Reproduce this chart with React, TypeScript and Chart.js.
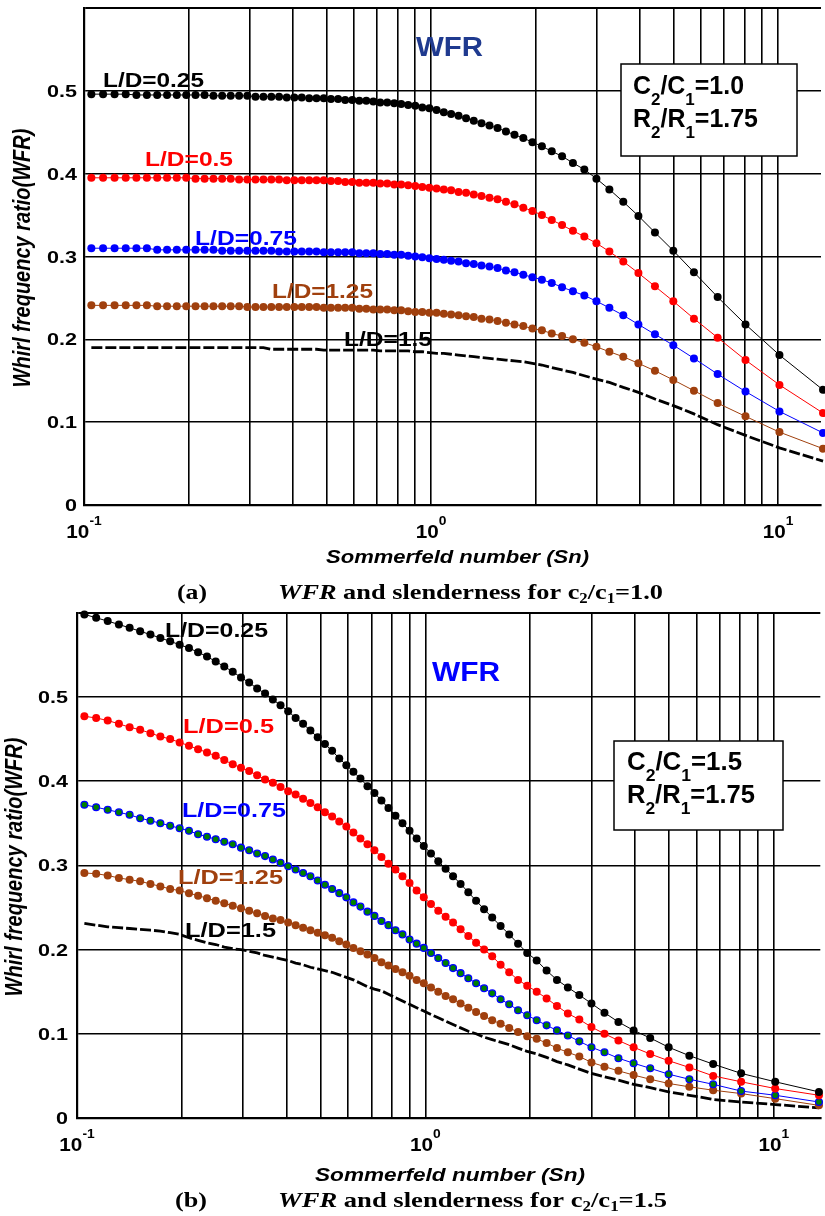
import React, { useEffect, useRef } from "react";
import { Chart, registerables } from "chart.js";

Chart.register(...registerables);

const SANS = '"Liberation Sans", Arial, Helvetica, sans-serif';
const SERIF = '"Liberation Serif", "Times New Roman", Times, serif';

// Sommerfeld number sample points (shared by every curve)
const SN = [
  0.105, 0.1135, 0.1225, 0.1319, 0.1416, 0.1518, 0.1625, 0.1735, 0.1851, 0.1971,
  0.2096, 0.2226, 0.2361, 0.2501, 0.2647, 0.2799, 0.2956, 0.312, 0.3289, 0.3466,
  0.3649, 0.3839, 0.4037, 0.4242, 0.4456, 0.4677, 0.4908, 0.5148, 0.5399, 0.5659,
  0.5931, 0.6214, 0.651, 0.6818, 0.7141, 0.7479, 0.7834, 0.8205, 0.8595, 0.9006,
  0.9438, 0.9894, 1.0377, 1.0887, 1.143, 1.2005, 1.262, 1.328, 1.398, 1.474,
  1.555, 1.644, 1.74, 1.845, 1.96, 2.087, 2.228, 2.386, 2.564, 2.766,
  2.997, 3.266, 3.582, 3.96, 4.419, 4.992, 5.724, 6.699, 8.059, 10.095,
  13.48,
];

// (a) c2/c1 = 1.0
const A_LD025 = [
  0.496, 0.496, 0.496, 0.496, 0.495, 0.495, 0.495, 0.495, 0.495, 0.495,
  0.495, 0.495, 0.494, 0.494, 0.494, 0.494, 0.494, 0.493, 0.493, 0.493,
  0.493, 0.492, 0.492, 0.492, 0.491, 0.491, 0.491, 0.49, 0.49, 0.489,
  0.489, 0.488, 0.488, 0.487, 0.486, 0.486, 0.485, 0.484, 0.483, 0.482,
  0.48, 0.479, 0.477, 0.474, 0.472, 0.47, 0.467, 0.464, 0.461, 0.458,
  0.455, 0.451, 0.447, 0.443, 0.438, 0.433, 0.427, 0.421, 0.413, 0.405,
  0.394, 0.381, 0.366, 0.349, 0.329, 0.307, 0.281, 0.251, 0.218, 0.181,
  0.139,
];
const A_LD05 = [
  0.395, 0.395, 0.395, 0.395, 0.395, 0.395, 0.395, 0.395, 0.395, 0.395,
  0.394, 0.394, 0.394, 0.394, 0.394, 0.393, 0.393, 0.393, 0.393, 0.393,
  0.393, 0.392, 0.392, 0.392, 0.392, 0.392, 0.392, 0.391, 0.391, 0.39,
  0.39, 0.389, 0.389, 0.389, 0.388, 0.388, 0.387, 0.387, 0.386, 0.385,
  0.384, 0.383, 0.382, 0.381, 0.38, 0.378, 0.377, 0.375, 0.373, 0.371,
  0.369, 0.366, 0.363, 0.359, 0.355, 0.35, 0.344, 0.338, 0.331, 0.324,
  0.316, 0.306, 0.294, 0.28, 0.264, 0.246, 0.225, 0.202, 0.175, 0.145,
  0.111,
];
const A_LD075 = [
  0.31, 0.31, 0.31, 0.31, 0.31, 0.31, 0.308, 0.308, 0.308, 0.308,
  0.308, 0.308, 0.308, 0.307, 0.307, 0.307, 0.307, 0.307, 0.307, 0.307,
  0.306, 0.306, 0.306, 0.306, 0.306, 0.306, 0.305, 0.305, 0.305, 0.305,
  0.305, 0.304, 0.304, 0.304, 0.303, 0.303, 0.302, 0.302, 0.301, 0.3,
  0.299, 0.298, 0.297, 0.296, 0.295, 0.294, 0.292, 0.291, 0.289, 0.288,
  0.286, 0.283, 0.281, 0.278, 0.275, 0.272, 0.268, 0.263, 0.258, 0.253,
  0.246, 0.238, 0.229, 0.218, 0.206, 0.193, 0.177, 0.158, 0.137, 0.113,
  0.087,
];
const A_LD125 = [
  0.241, 0.241, 0.241, 0.241, 0.241, 0.241, 0.24, 0.24, 0.24, 0.24,
  0.24, 0.24, 0.24, 0.24, 0.24, 0.24, 0.239, 0.239, 0.239, 0.239,
  0.239, 0.239, 0.239, 0.239, 0.239, 0.239, 0.238, 0.238, 0.238, 0.238,
  0.238, 0.237, 0.237, 0.236, 0.236, 0.236, 0.235, 0.235, 0.234, 0.233,
  0.233, 0.232, 0.232, 0.231, 0.23, 0.229, 0.228, 0.227, 0.225, 0.224,
  0.222, 0.22, 0.218, 0.216, 0.213, 0.211, 0.207, 0.204, 0.2, 0.196,
  0.191, 0.185, 0.179, 0.171, 0.162, 0.151, 0.138, 0.123, 0.107, 0.088,
  0.068,
];
const A_LD15 = [
  0.19, 0.19, 0.19, 0.19, 0.19, 0.19, 0.19, 0.19, 0.19, 0.19,
  0.19, 0.19, 0.19, 0.19, 0.19, 0.19, 0.19, 0.19, 0.19, 0.188,
  0.188, 0.188, 0.188, 0.188, 0.188, 0.188, 0.187, 0.187, 0.187, 0.187,
  0.187, 0.187, 0.187, 0.187, 0.186, 0.186, 0.186, 0.186, 0.186, 0.185,
  0.185, 0.184, 0.183, 0.183, 0.182, 0.181, 0.18, 0.179, 0.178, 0.177,
  0.176, 0.175, 0.174, 0.173, 0.171, 0.169, 0.166, 0.163, 0.16, 0.156,
  0.152, 0.148, 0.142, 0.136, 0.128, 0.12, 0.11, 0.097, 0.084, 0.069,
  0.053,
];

// (b) c2/c1 = 1.5
const B_LD025 = [
  0.598, 0.594, 0.59, 0.586, 0.582, 0.578, 0.574, 0.57, 0.566, 0.562,
  0.558, 0.553, 0.548, 0.542, 0.536, 0.53, 0.523, 0.517, 0.51, 0.504,
  0.497, 0.49, 0.483, 0.475, 0.468, 0.46, 0.452, 0.444, 0.436, 0.427,
  0.419, 0.411, 0.403, 0.394, 0.386, 0.377, 0.368, 0.359, 0.35, 0.341,
  0.332, 0.323, 0.314, 0.305, 0.296, 0.287, 0.278, 0.268, 0.258, 0.248,
  0.238, 0.228, 0.218, 0.207, 0.196, 0.187, 0.175, 0.164, 0.155, 0.146,
  0.136, 0.125, 0.114, 0.104, 0.095, 0.084, 0.074, 0.064, 0.053, 0.043,
  0.031,
];
const B_LD05 = [
  0.477, 0.475, 0.472, 0.468, 0.464, 0.461, 0.457, 0.453, 0.45, 0.446,
  0.442, 0.438, 0.434, 0.43, 0.425, 0.42, 0.416, 0.412, 0.407, 0.402,
  0.398, 0.393, 0.388, 0.384, 0.379, 0.374, 0.369, 0.363, 0.358, 0.352,
  0.346, 0.339, 0.332, 0.325, 0.318, 0.31, 0.302, 0.295, 0.287, 0.279,
  0.27, 0.262, 0.254, 0.246, 0.239, 0.232, 0.224, 0.216, 0.208, 0.2,
  0.192, 0.182, 0.173, 0.164, 0.157, 0.15, 0.142, 0.133, 0.124, 0.117,
  0.108, 0.1, 0.092, 0.084, 0.076, 0.068, 0.06, 0.05, 0.043, 0.035,
  0.027,
];
const B_LD075 = [
  0.372, 0.369, 0.366, 0.363, 0.36, 0.356, 0.353, 0.35, 0.347, 0.344,
  0.341, 0.337, 0.334, 0.331, 0.328, 0.325, 0.321, 0.318, 0.314, 0.311,
  0.307, 0.303, 0.299, 0.295, 0.291, 0.287, 0.282, 0.277, 0.272, 0.267,
  0.262, 0.256, 0.251, 0.245, 0.24, 0.234, 0.229, 0.223, 0.218, 0.212,
  0.207, 0.202, 0.196, 0.19, 0.184, 0.178, 0.172, 0.166, 0.16, 0.154,
  0.148, 0.141, 0.135, 0.128, 0.122, 0.116, 0.11, 0.104, 0.098, 0.091,
  0.084, 0.078, 0.071, 0.065, 0.059, 0.052, 0.046, 0.04, 0.032, 0.027,
  0.019,
];
const B_LD125 = [
  0.291, 0.29, 0.288, 0.285, 0.283, 0.281, 0.278, 0.275, 0.272, 0.27,
  0.267, 0.264, 0.261, 0.258, 0.255, 0.252, 0.249, 0.246, 0.243, 0.24,
  0.237, 0.235, 0.232, 0.229, 0.226, 0.223, 0.22, 0.217, 0.214, 0.21,
  0.206, 0.202, 0.198, 0.194, 0.19, 0.185, 0.181, 0.177, 0.173, 0.169,
  0.164, 0.16, 0.155, 0.15, 0.145, 0.141, 0.136, 0.131, 0.126, 0.121,
  0.116, 0.112, 0.107, 0.102, 0.097, 0.094, 0.089, 0.083, 0.078, 0.073,
  0.066, 0.061, 0.056, 0.051, 0.046, 0.041, 0.037, 0.033, 0.029, 0.023,
  0.015,
];
const B_LD15 = [
  0.231, 0.229, 0.227, 0.226, 0.225, 0.224, 0.223, 0.222, 0.22, 0.218,
  0.214, 0.211, 0.208, 0.206, 0.203, 0.201, 0.2, 0.198, 0.196, 0.193,
  0.191, 0.189, 0.187, 0.184, 0.182, 0.179, 0.177, 0.175, 0.173, 0.17,
  0.167, 0.164, 0.16, 0.156, 0.153, 0.151, 0.147, 0.143, 0.139, 0.135,
  0.131, 0.127, 0.123, 0.119, 0.115, 0.111, 0.107, 0.103, 0.1, 0.096,
  0.093, 0.09, 0.087, 0.083, 0.079, 0.076, 0.072, 0.067, 0.063, 0.058,
  0.053, 0.049, 0.045, 0.04, 0.036, 0.031, 0.027, 0.022, 0.019, 0.016,
  0.012,
];

const X_GRID = [0.1, 0.2, 0.3, 0.4, 0.5, 0.6, 0.7, 0.8, 0.9, 1, 2, 3, 4, 5, 6, 7, 8, 9, 10];
const X_LABEL_VALUES = [0.1, 1, 10];
const X_LABEL_EXPONENTS = ["-1", "0", "1"];
const Y_TICKS = [0, 0.1, 0.2, 0.3, 0.4, 0.5, 0.6];
const Y_TICK_LABELS = ["0", "0.1", "0.2", "0.3", "0.4", "0.5", ""];
const SERIES_NAMES = ["L/D=0.25", "L/D=0.5", "L/D=0.75", "L/D=1.25", "L/D=1.5"];

const BLACK = "#000000";
const RED = "#ff0000";
const BLUE = "#0000ff";
const BROWN = "#a0400e";
const GREEN = "#008000";

type Run = { t: string; font: string; dy?: number };

function drawRuns(
  ctx: CanvasRenderingContext2D,
  runs: Run[],
  x: number,
  y: number,
  opts: { color: string; width?: number; sx?: number; align?: "left" | "center" | "right" }
) {
  let nat = 0;
  const widths: number[] = [];
  for (const r of runs) {
    ctx.font = r.font;
    const w = ctx.measureText(r.t).width;
    widths.push(w);
    nat += w;
  }
  const sx = opts.width ? opts.width / nat : opts.sx ?? 1;
  const total = nat * sx;
  const align = opts.align ?? "left";
  const x0 = align === "center" ? x - total / 2 : align === "right" ? x - total : x;
  ctx.save();
  ctx.fillStyle = opts.color;
  ctx.textAlign = "left";
  ctx.textBaseline = "alphabetic";
  ctx.translate(x0, y);
  ctx.scale(sx, 1);
  let cx = 0;
  runs.forEach((r, i) => {
    ctx.font = r.font;
    ctx.fillText(r.t, cx, r.dy ?? 0);
    cx += widths[i];
  });
  ctx.restore();
}

type SeriesSpec = {
  name: string;
  values: number[];
  color: string;
  fill?: string;
  edge?: string;
  dashed?: boolean;
};

type LabelSpec = { text: string; x: number; y: number; width: number; color: string };

type ChartSpec = {
  top: number;
  padTop: number;
  yAxisWidth: number;
  xAxisHeight: number;
  xMax: number;
  series: SeriesSpec[];
  labels: LabelSpec[];
  yLabelRight: number;
  yTitle: { cx: number; cy: number };
  xTitle: { x: number; y: number; width: number };
  wfr: { x: number; y: number; width: number; color: string };
  box: { x: number; y: number; w: number; h: number; tx: number; y1: number; y2: number; w1: number; w2: number; c: string };
  caption: { tag: string; tagX: number; tagW: number; x: number; y: number; width: number; c: string };
};

const SPEC_A: ChartSpec = {
  top: 0,
  padTop: 8,
  yAxisWidth: 84,
  xAxisHeight: 103,
  xMax: 13.3,
  series: [
    { name: SERIES_NAMES[0], values: A_LD025, color: BLACK },
    { name: SERIES_NAMES[1], values: A_LD05, color: RED },
    { name: SERIES_NAMES[2], values: A_LD075, color: BLUE },
    { name: SERIES_NAMES[3], values: A_LD125, color: BROWN },
    { name: SERIES_NAMES[4], values: A_LD15, color: BLACK, dashed: true },
  ],
  labels: [
    { text: SERIES_NAMES[0], x: 103, y: 87, width: 101, color: BLACK },
    { text: SERIES_NAMES[1], x: 145, y: 166, width: 88, color: RED },
    { text: SERIES_NAMES[2], x: 195, y: 245, width: 102, color: BLUE },
    { text: SERIES_NAMES[3], x: 272, y: 298, width: 101, color: BROWN },
    { text: SERIES_NAMES[4], x: 344, y: 346, width: 88, color: BLACK },
  ],
  yLabelRight: 77,
  yTitle: { cx: 23, cy: 258 },
  xTitle: { x: 326, y: 563, width: 263 },
  wfr: { x: 416, y: 56, width: 67, color: "#1f3a8f" },
  box: { x: 621, y: 64, w: 176, h: 92, tx: 633, y1: 94, y2: 127, w1: 111, w2: 125, c: "1.0" },
  caption: { tag: "(a)", tagX: 177, tagW: 30, x: 278, y: 599, width: 385, c: "1.0" },
};

const SPEC_B: ChartSpec = {
  top: 608,
  padTop: 3,
  yAxisWidth: 77,
  xAxisHeight: 98,
  xMax: 13.6,
  series: [
    { name: SERIES_NAMES[0], values: B_LD025, color: BLACK },
    { name: SERIES_NAMES[1], values: B_LD05, color: RED },
    { name: SERIES_NAMES[2], values: B_LD075, color: BLUE, fill: GREEN, edge: BLUE },
    { name: SERIES_NAMES[3], values: B_LD125, color: BROWN },
    { name: SERIES_NAMES[4], values: B_LD15, color: BLACK, dashed: true },
  ],
  labels: [
    { text: SERIES_NAMES[0], x: 165, y: 29, width: 103, color: BLACK },
    { text: SERIES_NAMES[1], x: 183, y: 125, width: 91, color: RED },
    { text: SERIES_NAMES[2], x: 182, y: 209, width: 104, color: BLUE },
    { text: SERIES_NAMES[3], x: 178, y: 276, width: 105, color: BROWN },
    { text: SERIES_NAMES[4], x: 185, y: 329, width: 91, color: BLACK },
  ],
  yLabelRight: 68,
  yTitle: { cx: 15, cy: 259 },
  xTitle: { x: 315, y: 573, width: 270 },
  wfr: { x: 432, y: 73, width: 68, color: "#0000ff" },
  box: { x: 614, y: 133, w: 169, h: 89, tx: 627, y1: 162, y2: 195, w1: 115, w2: 128, c: "1.5" },
  caption: { tag: "(b)", tagX: 175, tagW: 32, x: 278, y: 599, width: 389, c: "1.5" },
};

function makeOverlay(spec: ChartSpec) {
  return {
    id: "overlay",
    afterDraw(chart: any) {
      const ctx: CanvasRenderingContext2D = chart.ctx;
      const xs = chart.scales.x;
      const ys = chart.scales.y;
      const area = chart.chartArea;

      // parameter box
      const b = spec.box;
      ctx.save();
      ctx.fillStyle = "#ffffff";
      ctx.fillRect(b.x, b.y, b.w, b.h);
      ctx.strokeStyle = "#000000";
      ctx.lineWidth = 1.5;
      ctx.strokeRect(b.x, b.y, b.w, b.h);
      ctx.restore();
      const big = `bold 25px ${SANS}`;
      const sub = `bold 17px ${SANS}`;
      drawRuns(
        ctx,
        [
          { t: "C", font: big },
          { t: "2", font: sub, dy: 11 },
          { t: "/C", font: big },
          { t: "1", font: sub, dy: 11 },
          { t: "=" + b.c, font: big },
        ],
        b.tx,
        b.y1,
        { color: BLACK, width: b.w1 }
      );
      drawRuns(
        ctx,
        [
          { t: "R", font: big },
          { t: "2", font: sub, dy: 11 },
          { t: "/R", font: big },
          { t: "1", font: sub, dy: 11 },
          { t: "=1.75", font: big },
        ],
        b.tx,
        b.y2,
        { color: BLACK, width: b.w2 }
      );

      // y tick labels
      Y_TICKS.forEach((v, i) => {
        const lbl = Y_TICK_LABELS[i];
        if (!lbl) return;
        drawRuns(ctx, [{ t: lbl, font: `bold 17px ${SANS}` }], spec.yLabelRight, ys.getPixelForValue(v) + 6, {
          color: BLACK,
          sx: 1.27,
          align: "right",
        });
      });
      // x tick labels (powers of ten)
      X_LABEL_VALUES.forEach((v, i) => {
        drawRuns(
          ctx,
          [
            { t: "10", font: `bold 18px ${SANS}` },
            { t: X_LABEL_EXPONENTS[i], font: `bold 12px ${SANS}`, dy: -13 },
          ],
          xs.getPixelForValue(v),
          area.bottom + 33,
          { color: BLACK, sx: 1.15, align: "center" }
        );
      });

      // axis titles
      ctx.save();
      ctx.translate(spec.yTitle.cx, spec.yTitle.cy);
      ctx.scale(1.2, 1);
      ctx.rotate(-Math.PI / 2);
      ctx.font = `italic bold 20px ${SANS}`;
      ctx.fillStyle = BLACK;
      ctx.textAlign = "center";
      ctx.textBaseline = "middle";
      ctx.fillText("Whirl frequency ratio(WFR)", 0, 0);
      ctx.restore();
      drawRuns(ctx, [{ t: "Sommerfeld number (Sn)", font: `italic bold 19px ${SANS}` }], spec.xTitle.x, spec.xTitle.y, {
        color: BLACK,
        width: spec.xTitle.width,
      });

      // WFR title
      drawRuns(ctx, [{ t: "WFR", font: `bold 27px ${SANS}` }], spec.wfr.x, spec.wfr.y, {
        color: spec.wfr.color,
        width: spec.wfr.width,
      });

      // curve labels
      spec.labels.forEach((l) => {
        drawRuns(ctx, [{ t: l.text, font: `bold 21px ${SANS}` }], l.x, l.y, { color: l.color, width: l.width });
      });

      // caption
      const cap = spec.caption;
      drawRuns(ctx, [{ t: cap.tag, font: `bold 22px ${SERIF}` }], cap.tagX, cap.y, { color: BLACK, width: cap.tagW });
      drawRuns(
        ctx,
        [
          { t: "WFR", font: `italic bold 22px ${SERIF}` },
          { t: " and slenderness for c", font: `bold 22px ${SERIF}` },
          { t: "2", font: `bold 14px ${SERIF}`, dy: 4 },
          { t: "/c", font: `bold 22px ${SERIF}` },
          { t: "1", font: `bold 14px ${SERIF}`, dy: 4 },
          { t: "=" + cap.c, font: `bold 22px ${SERIF}` },
        ],
        cap.x,
        cap.y,
        { color: BLACK, width: cap.width }
      );
    },
  };
}

function buildConfig(spec: ChartSpec): any {
  const datasets = spec.series.map((s) => ({
    label: s.name,
    data: SN.map((x, i) => ({ x, y: s.values[i] })),
    borderColor: s.color,
    backgroundColor: s.color,
    borderWidth: s.dashed ? 2.8 : 1,
    borderDash: s.dashed ? [11, 3] : [],
    pointRadius: s.dashed ? 0 : s.fill ? 3.4 : 4,
    pointHoverRadius: 0,
    pointBackgroundColor: s.fill ?? s.color,
    pointBorderColor: s.edge ?? s.color,
    pointBorderWidth: s.edge ? 1.3 : 0,
    fill: false,
    tension: 0,
    clip: false,
  }));
  return {
    type: "line",
    data: { datasets },
    options: {
      responsive: false,
      animation: false,
      devicePixelRatio: 1,
      events: [],
      layout: { padding: { top: spec.padTop, left: 0, right: 0, bottom: 0 } },
      plugins: {
        legend: { display: false },
        tooltip: { enabled: false },
        title: { display: false },
      },
      scales: {
        x: {
          type: "logarithmic",
          min: 0.1,
          max: spec.xMax,
          afterBuildTicks: (s: any) => {
            s.ticks = X_GRID.map((v) => ({ value: v }));
          },
          afterFit: (s: any) => {
            s.height = spec.xAxisHeight;
          },
          ticks: { display: false, autoSkip: false },
          grid: { color: "#000000", lineWidth: 1.6, drawTicks: false },
          border: { display: true, color: "#000000", width: 2.2 },
        },
        y: {
          type: "linear",
          min: 0,
          max: 0.6,
          afterBuildTicks: (s: any) => {
            s.ticks = Y_TICKS.map((v) => ({ value: v }));
          },
          afterFit: (s: any) => {
            s.width = spec.yAxisWidth;
          },
          ticks: { display: false, autoSkip: false },
          grid: {
            color: "#000000",
            lineWidth: (c: any) => (c.tick && c.tick.value >= 0.6 ? 2 : 1.6),
            drawTicks: false,
          },
          border: { display: true, color: "#000000", width: 2.2 },
        },
      },
    },
    plugins: [makeOverlay(spec)],
  };
}

function WfrChart({ spec }: { spec: ChartSpec }) {
  const ref = useRef<HTMLCanvasElement | null>(null);
  useEffect(() => {
    const canvas = ref.current;
    if (!canvas) return;
    const chart = new Chart(canvas, buildConfig(spec));
    return () => chart.destroy();
  }, [spec]);
  return (
    <canvas
      ref={ref}
      width={825}
      height={608}
      style={{ position: "absolute", left: 0, top: spec.top, width: 825, height: 608, display: "block" }}
    />
  );
}

export default function App() {
  return (
    <div
      style={{
        position: "absolute",
        left: 0,
        top: 0,
        width: 825,
        height: 1216,
        background: "#ffffff",
        overflow: "hidden",
      }}
    >
      <WfrChart spec={SPEC_A} />
      <WfrChart spec={SPEC_B} />
    </div>
  );
}
